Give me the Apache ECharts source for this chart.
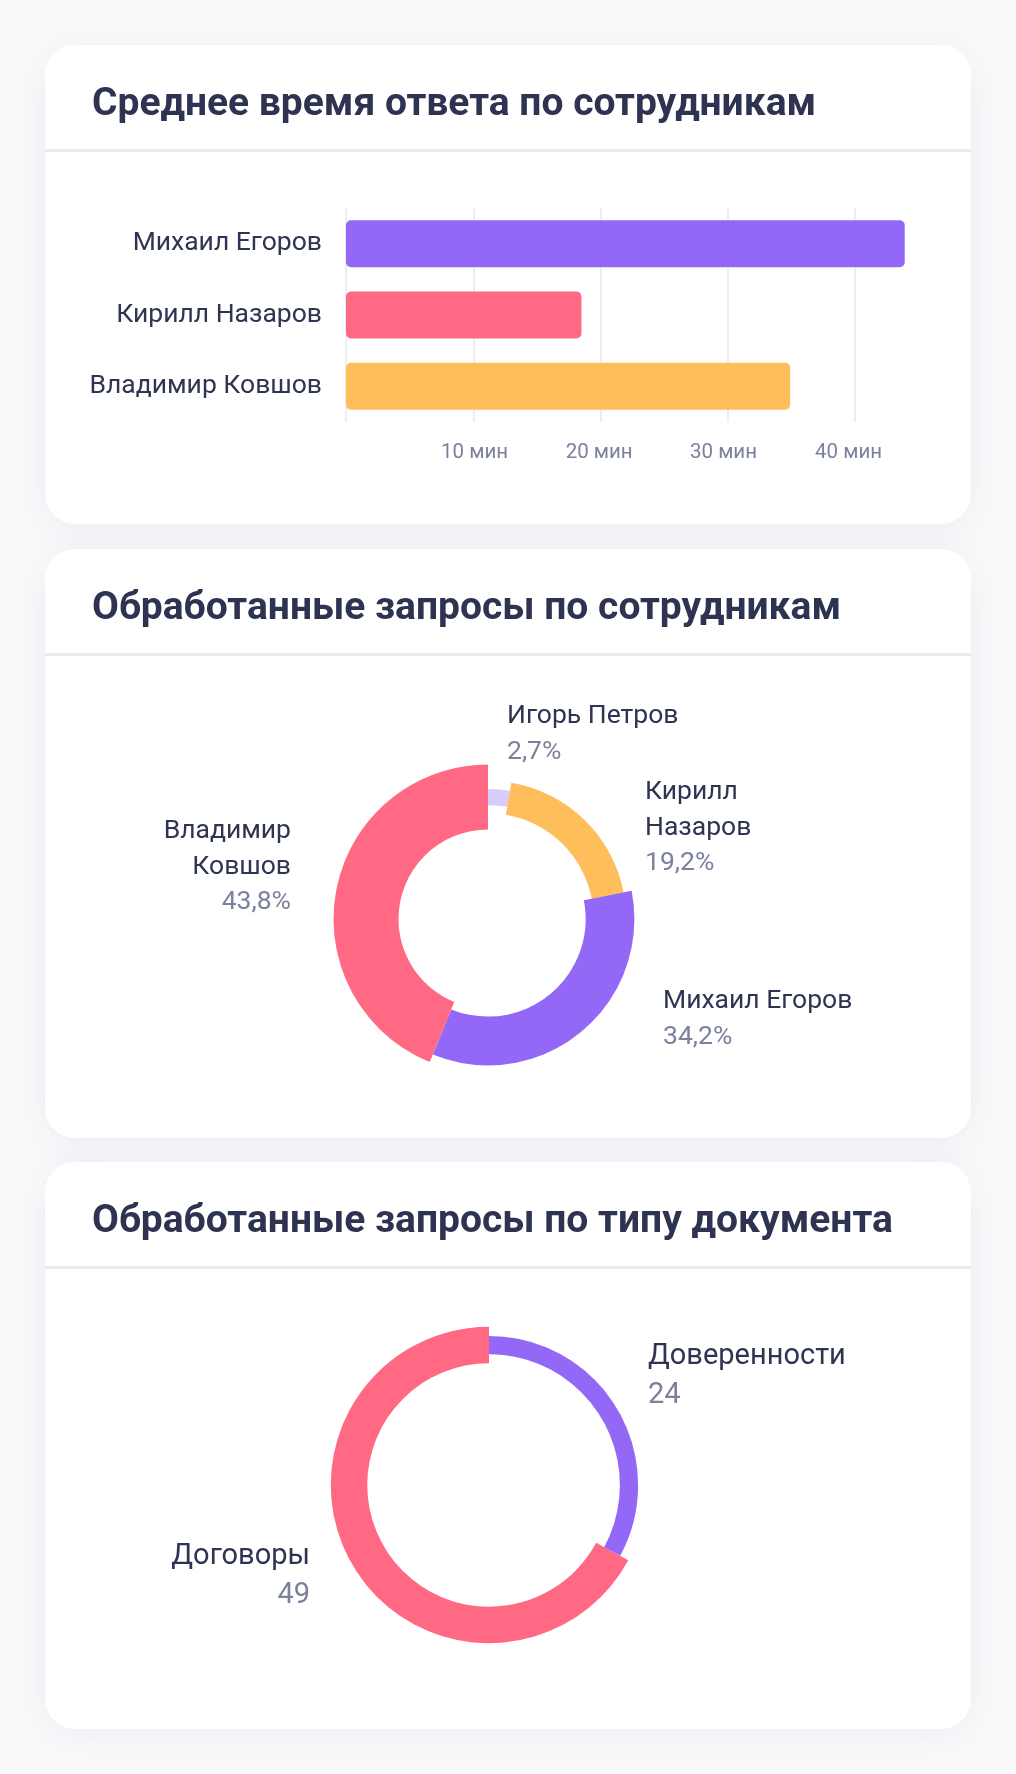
<!DOCTYPE html>
<html>
<head>
<meta charset="utf-8">
<script src="https://cdn.jsdelivr.net/npm/echarts@6/dist/echarts.min.js"></script>
<style>
html,body{margin:0;padding:0;background:#fafafc;}
#c{width:1016px;height:1774px;}
</style>
</head>
<body>
<div id="c"></div>
<script>
// ---------- DATA ----------
const cardTitles = [
  'Среднее время ответа по сотрудникам',
  'Обработанные запросы по сотрудникам',
  'Обработанные запросы по типу документа'
];
const responseEmployees = ['Михаил Егоров', 'Кирилл Назаров', 'Владимир Ковшов'];
const responseMinutes = [43.9, 18.5, 34.9];
const minuteTickLabels = [10, 20, 30, 40];
const minuteUnit = 'мин';

const requestEmployees = ['Игорь Петров', 'Кирилл Назаров', 'Михаил Егоров', 'Владимир Ковшов'];
const requestShares = [2.7, 19.2, 34.2, 43.8];

const documentTypes = ['Доверенности', 'Договоры'];
const documentCounts = [24, 49];

// ---------- STYLE / LAYOUT ----------
const C_PURPLE = '#9368f6', C_PINK = '#ff6983', C_YELLOW = '#ffbe5c', C_LILAC = '#d9ccfb';
const C_TEXT = '#2e3452', C_MUTED = '#7b819d', C_TITLE = '#2d3350';
const barColors = [C_PURPLE, C_PINK, C_YELLOW];
const ring1Colors = [C_LILAC, C_YELLOW, C_PURPLE, C_PINK];
const ring2Colors = [C_PURPLE, C_PINK];

// horizontal nudges of the x tick labels (style only), [left pad, right pad]
const tickLabelPads = [[2.6, 0], [0, 2.8], [0, 8.6], [0, 13]];

const cards = [{y: 45, h: 479}, {y: 549, h: 589}, {y: 1162, h: 567}];
const CARD_X = 45, CARD_W = 926;

const ring1 = {center: [488, 919], mid: 122, step: 16.25, font: 26.5, lh: 35.5,
  anchors: [[19, -220, 'left'], [157, -144, 'left'], [175, 65, 'left'], [-197, -105, 'right']],
  wrap: [false, true, false, true]};
const ring2 = {center: [489, 1485], mid: 140, step: 18.25, font: 29, lh: 39,
  anchors: [[159, -148, 'left'], [-179, 52, 'right']],
  wrap: [false, false]};

function ringSeries(names, values, colors, cfg, valueText) {
  const order = values.map((v, i) => i).sort((a, b) => values[a] - values[b]);
  const rank = [];
  order.forEach((idx, r) => { rank[idx] = r + 1; });
  return names.map((nm, k) => {
    const t = cfg.step * rank[k];
    const a = cfg.anchors[k];
    return {
      type: 'pie',
      center: cfg.center,
      radius: [cfg.mid - t / 2, cfg.mid + t / 2],
      startAngle: 90,
      clockwise: true,
      silent: true,
      animation: false,
      avoidLabelOverlap: false,
      emphasis: {disabled: true},
      itemStyle: {borderWidth: 0},
      data: names.map((n, i) => ({
        name: n, value: values[i],
        itemStyle: {color: i === k ? colors[i] : 'rgba(0,0,0,0)'},
        label: {show: i === k}
      })),
      label: {
        position: 'outside',
        overflow: 'none',
        formatter: (p) => {
          const parts = cfg.wrap[k] ? p.name.split(' ') : [p.name];
          return parts.map(s => '{n|' + s + '}').join('\n') + '\n{v|' + valueText(p.value) + '}';
        },
        rich: {
          n: {fontFamily: 'Roboto', fontSize: cfg.font, lineHeight: cfg.lh, color: C_TEXT},
          v: {fontFamily: 'Roboto', fontSize: cfg.font, lineHeight: cfg.lh, color: C_MUTED}
        }
      },
      labelLine: {show: false},
      labelLayout: () => ({
        x: cfg.center[0] + a[0],
        y: cfg.center[1] + a[1],
        align: a[2],
        verticalAlign: 'top'
      })
    };
  });
}

const graphics = [];
cards.forEach((cd, i) => {
  graphics.push({
    type: 'rect', z: -10,
    shape: {x: CARD_X, y: cd.y, width: CARD_W, height: cd.h, r: 30},
    style: {fill: '#ffffff', shadowBlur: 40, shadowColor: 'rgba(50,50,110,0.07)', shadowOffsetY: 6}
  });
  graphics.push({
    type: 'rect', z: -9,
    shape: {x: CARD_X, y: cd.y + 104, width: CARD_W, height: 3},
    style: {fill: '#e9ecf1'}
  });
  graphics.push({
    type: 'text', z: -8,
    x: 92, y: cd.y + 60,
    style: {text: cardTitles[i], font: '700 39px Roboto', fill: C_TITLE, verticalAlign: 'middle', align: 'left'}
  });
});

const tickRich = {};
tickLabelPads.forEach((p, i) => {
  tickRich['t' + i] = {fontFamily: 'Roboto', fontSize: 20.5, color: C_MUTED, padding: [0, p[1], 0, p[0]]};
});

const option = {
  animation: false,
  backgroundColor: '#fafafc',
  graphic: graphics,
  grid: {left: 346, top: 208, width: 560, height: 214, containLabel: false, outerBoundsMode: 'none'},
  xAxis: {
    type: 'value', min: 0, max: 44, interval: 10,
    axisLine: {show: false}, axisTick: {show: false},
    splitLine: {show: true, showMinLine: true, showMaxLine: false, lineStyle: {color: '#eceef3', width: 2}},
    axisLabel: {
      margin: 20, fontFamily: 'Roboto', fontSize: 20.5, color: C_MUTED,
      formatter: (v) => {
        const i = minuteTickLabels.indexOf(v);
        return i >= 0 ? '{t' + i + '|' + v + ' ' + minuteUnit + '}' : '';
      },
      rich: tickRich
    }
  },
  yAxis: {
    type: 'category', inverse: true, data: responseEmployees,
    axisLine: {show: false}, axisTick: {show: false}, splitLine: {show: false},
    axisLabel: {margin: 24, fontFamily: 'Roboto', fontSize: 26.5, color: C_TEXT, padding: [5, 0, 0, 0]}
  },
  series: [
    {
      type: 'bar', barWidth: 47, silent: true,
      data: responseMinutes.map((v, i) => ({value: v, itemStyle: {color: barColors[i], borderRadius: 5}}))
    }
  ].concat(
    ringSeries(requestEmployees, requestShares, ring1Colors, ring1, v => v.toFixed(1).replace('.', ',') + '%'),
    ringSeries(documentTypes, documentCounts, ring2Colors, ring2, v => String(v))
  )
};

const chart = echarts.init(document.getElementById('c'), null, {renderer: 'canvas', width: 1016, height: 1774});
chart.setOption(option);
</script>
</body>
</html>
